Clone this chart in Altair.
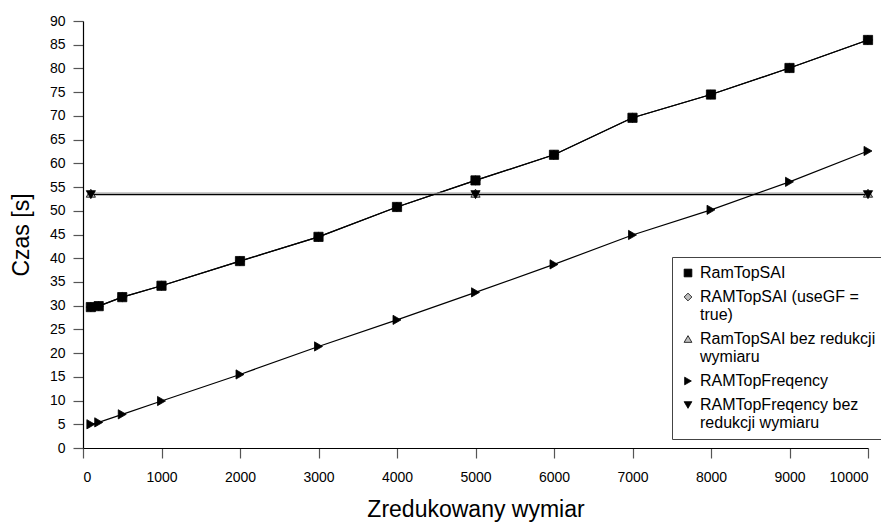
import altair as alt
import pandas as pd

series_names = [
    "RamTopSAI",
    "RAMTopSAI (useGF = true)",
    "RamTopSAI bez redukcji wymiaru",
    "RAMTopFreqency",
    "RAMTopFreqency bez redukcji wymiaru",
]

x_main = [100, 200, 500, 1000, 2000, 3000, 4000, 5000, 6000, 7000, 8000, 9000, 10000]
sai = [29.7, 29.9, 31.8, 34.2, 39.4, 44.5, 50.8, 56.4, 61.8, 69.6, 74.5, 80.1, 86.0]
sai_gf = [29.7, 29.9, 31.8, 34.2, 39.4, 44.5, 50.8, 56.4, 61.8, 69.6, 74.5, 80.1, 86.0]
freq = [5.0, 5.4, 7.1, 9.9, 15.5, 21.4, 27.0, 32.8, 38.7, 44.9, 50.2, 56.1, 62.6]

x_flat = [100, 5000, 10000]
sai_nored = [53.7, 53.7, 53.7]
freq_nored = [53.4, 53.4, 53.4]

line_colors = ["#000000", "#000000", "#9a9a9a", "#000000", "#000000"]
fills = ["#000000", "#bdbdbd", "#bdbdbd", "#000000", "#000000"]
shapes = ["square", "diamond", "triangle-up", "triangle-right", "triangle-down"]

rows = []
for name, xs, ys in [
    (series_names[1], x_main, sai_gf),
    (series_names[0], x_main, sai),
    (series_names[2], x_flat, sai_nored),
    (series_names[4], x_flat, freq_nored),
    (series_names[3], x_main, freq),
]:
    lc = line_colors[series_names.index(name)]
    for xv, yv in zip(xs, ys):
        rows.append({"series": name, "x": xv, "y": yv, "lc": lc})
df = pd.DataFrame(rows)

label_expr = (
    "datum.label == 'RAMTopSAI (useGF = true)' ? ['RAMTopSAI (useGF =', 'true)'] : "
    "datum.label == 'RamTopSAI bez redukcji wymiaru' ? ['RamTopSAI bez redukcji', 'wymiaru'] : "
    "datum.label == 'RAMTopFreqency bez redukcji wymiaru' ? ['RAMTopFreqency bez', 'redukcji wymiaru'] : "
    "datum.label"
)

x_enc = alt.X(
    "x:Q",
    scale=alt.Scale(domain=[0, 10000], nice=False),
    axis=alt.Axis(values=list(range(0, 10001, 1000)), format="d", title="Zredukowany wymiar"),
)
y_enc = alt.Y(
    "y:Q",
    scale=alt.Scale(domain=[0, 90], nice=False),
    axis=alt.Axis(values=list(range(0, 91, 5)), format="d", title="Czas [s]"),
)

lines = alt.Chart(df).mark_line(strokeWidth=1.2).encode(
    x=x_enc,
    y=y_enc,
    detail="series:N",
    color=alt.Color("lc:N", scale=None),
)

legend = alt.Legend(
    title=None,
    orient="none",
    legendX=589,
    legendY=236,
    labelExpr=label_expr,
    labelFontSize=16,
    labelLimit=300,
    rowPadding=8,
    padding=8,
    strokeColor="#444444",
    fillColor="#ffffff",
    symbolSize=60,
    symbolStrokeWidth=0.8,
    labelOffset=4,
)

points = alt.Chart(df).mark_point(filled=True, size=85, stroke="#000000", strokeWidth=0.8, opacity=1).encode(
    x=x_enc,
    y=y_enc,
    shape=alt.Shape("series:N", scale=alt.Scale(domain=series_names, range=shapes), legend=legend, sort=series_names),
    fill=alt.Fill("series:N", scale=alt.Scale(domain=series_names, range=fills), legend=legend, sort=series_names),
)

chart = (
    alt.layer(lines, points)
    .properties(
        width=785,
        height=427,
        autosize=alt.AutoSizeParams(type="none"),
        padding={"left": 75, "top": 13, "right": 13, "bottom": 74},
    )
    .configure_view(stroke=None)
    .configure_axis(
        grid=False,
        labelFont="Liberation Sans",
        labelFontSize=14,
        labelColor="#000000",
        titleFont="Liberation Sans",
        titleFontSize=23,
        titleFontWeight="normal",
        titleColor="#000000",
        domainColor="#000000",
        domainWidth=1.2,
        tickColor="#555555",
        tickSize=10,
        tickWidth=1.2,
    )
    .configure_axisX(labelPadding=12, titlePadding=14)
    .configure_axisY(labelPadding=8, titlePadding=16)
    .configure_legend(labelFont="Liberation Sans", labelColor="#000000")
)

chart.save("out.html", embed_options={"renderer": "svg", "actions": False})
